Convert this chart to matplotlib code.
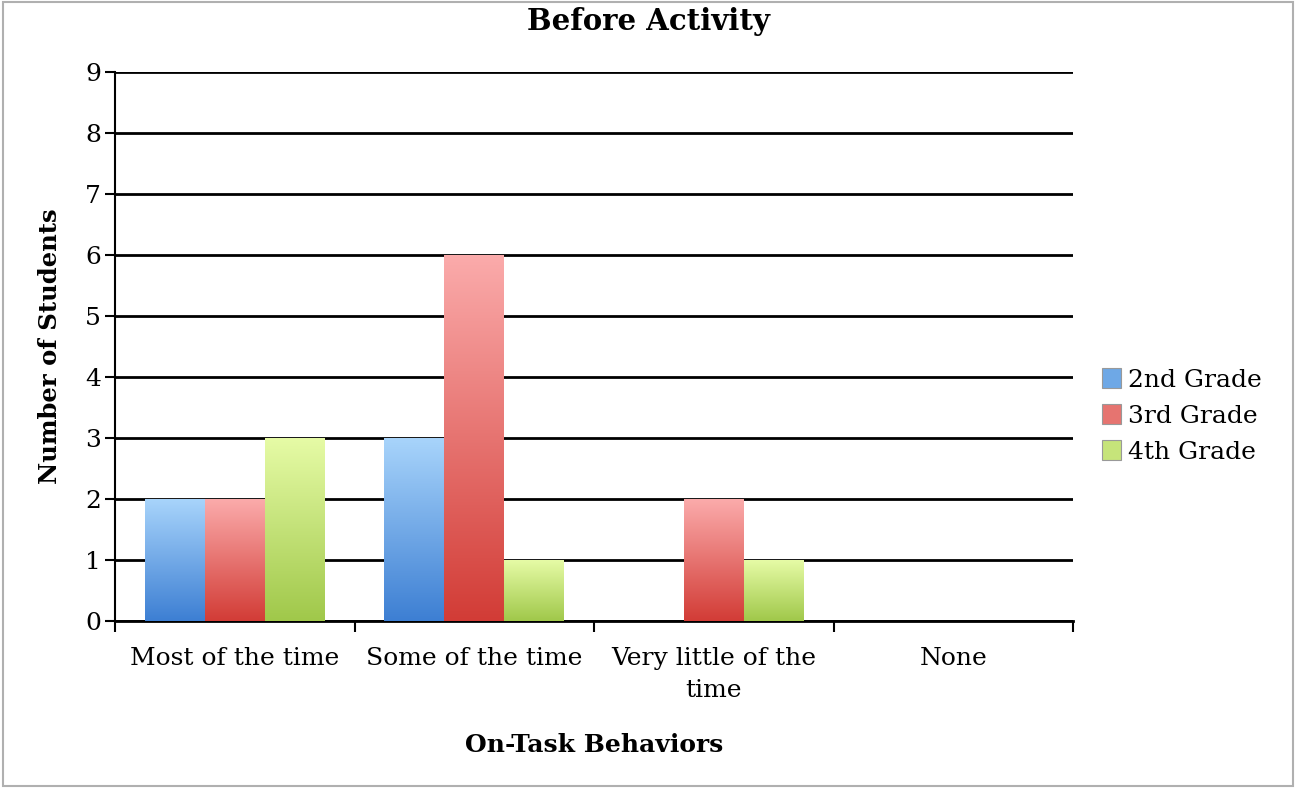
import numpy as np
import matplotlib.pyplot as plt
from matplotlib.colors import LinearSegmentedColormap
from matplotlib.patches import Rectangle

categories = ["Most of the time", "Some of the time", "Very little of the\ntime", "None"]
grades = ["2nd Grade", "3rd Grade", "4th Grade"]
grade2 = [2, 3, 0, 0]
grade3 = [2, 6, 2, 0]
grade4 = [3, 1, 1, 0]

# top colour, bottom colour for the gradient fill
shades = [("#a8d4fb", "#3d7fd3"), ("#fbabab", "#d23c36"), ("#e6fba6", "#a0c84a")]
legend_fill = ["#6ea8e6", "#e67470", "#c6e47a"]

plt.rcParams['font.family'] = ['DejaVu Serif']

W, H = 1296, 788
fig = plt.figure(figsize=(W / 100, H / 100), dpi=100)
ax = fig.add_axes([115 / W, 1 - 621 / H, 958 / W, 549 / H])

width = 0.25
x = np.arange(len(categories))
grad = np.linspace(1, 0, 256).reshape(-1, 1)
for i, (vals, (top, bot)) in enumerate(zip([grade2, grade3, grade4], shades)):
    cmap = LinearSegmentedColormap.from_list("g%d" % i, [bot, top])
    for xi, v in zip(x, vals):
        if v <= 0:
            continue
        left = xi + (i - 1) * width - width / 2
        im = ax.imshow(grad, cmap=cmap, extent=[left, left + width, 0, v],
                       aspect='auto', zorder=3, vmin=0, vmax=1)
        r = Rectangle((left, 0), width, v, transform=ax.transData)
        im.set_clip_path(r)
    ax.add_patch(Rectangle((0, 0), 0, 0, facecolor=legend_fill[i], label=grades[i],
                           edgecolor='#999999', linewidth=0.8))

ax.set_xlim(-0.5, len(categories) - 0.5)
ax.set_ylim(0, 9)
ax.set_yticks(range(0, 10))
ax.yaxis.grid(True, color='black', linewidth=2, zorder=1)
ax.set_axisbelow(True)
ax.set_xticks(np.arange(-0.5, len(categories), 1))
ax.set_xticklabels([])
ax.set_xticks(x, minor=True)
ax.set_xticklabels(categories, minor=True, fontsize=18, linespacing=1.5)
ax.tick_params(axis='x', which='minor', length=0, pad=19)
ax.tick_params(axis='x', which='major', length=8, width=1.5, direction='out')
ax.tick_params(axis='y', length=7, width=1.5, labelsize=18, pad=3)
for s in ['top', 'right']:
    ax.spines[s].set_visible(False)
ax.spines['left'].set_linewidth(1.5)
ax.spines['bottom'].set_linewidth(2)

fig.text(649 / W, 1 - 22 / H, "Before Activity", fontsize=21, fontweight='bold',
         ha='center', va='center')
fig.text(50 / W, 1 - 346 / H, "Number of Students", fontsize=17.5, fontweight='bold',
         ha='center', va='center', rotation=90)
fig.text(594 / W, 1 - 745 / H, "On-Task Behaviors", fontsize=18, fontweight='bold',
         ha='center', va='center')

ax.legend(loc='center left', bbox_to_anchor=(1102 / W, 1 - 416 / H),
          bbox_transform=fig.transFigure, frameon=False,
          fontsize=18, handlelength=0.75, handleheight=0.85, handletextpad=0.3,
          labelspacing=0.5, borderaxespad=0, borderpad=0)

fig.patches.append(Rectangle((0.002, 0.003), 0.996, 0.994, transform=fig.transFigure,
                             fill=False, edgecolor='#b0b0b0', linewidth=1.5))

fig.savefig("out.png", dpi=100)
